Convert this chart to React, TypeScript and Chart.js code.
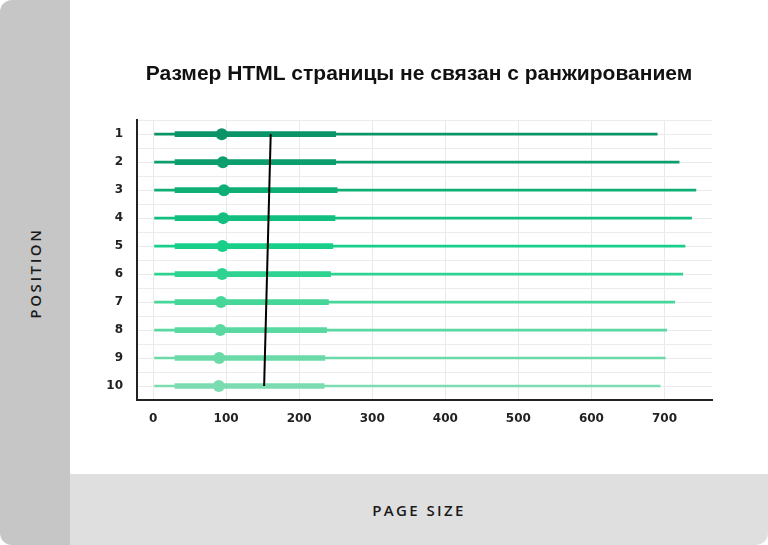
import React, { useEffect, useRef } from "react";
import { Chart, registerables } from "chart.js";

Chart.register(...registerables);

// positions in SERP (y axis)
const positions = [1, 2, 3, 4, 5, 6, 7, 8, 9, 10];
// page size (KB) distribution per position
const whiskerMin = [2, 2, 2, 2, 2, 2, 2, 2, 2, 2];
const q1 = [30, 30, 30, 30, 30, 30, 30, 30, 30, 30];
const medians = [94, 95.5, 97, 96, 95, 94.5, 93, 92, 90.5, 90];
const q3 = [250, 250, 252, 249, 246, 243, 240, 237.5, 235, 234];
const whiskerMax = [690, 720, 743, 737, 728, 725, 714, 703, 701, 694];
// trend line (top → bottom position)
const trendX = [161, 152];
const trendY = [1, 10];
const xTicks = [0, 100, 200, 300, 400, 500, 600, 700];

const rowColors = [
  "#0a9467",
  "#0c9e6c",
  "#0fae75",
  "#12bf7e",
  "#18cf8a",
  "#2ed391",
  "#45d698",
  "#5ad8a1",
  "#6bdaa8",
  "#7bdcb1",
];

const tickFont = { family: "'DejaVu Sans', sans-serif", size: 12, weight: "bold" as const };

const RangeChart = () => {
  const ref = useRef<HTMLCanvasElement | null>(null);

  useEffect(() => {
    if (!ref.current) return;
    const chart = new Chart(ref.current, {
      type: "bar",
      data: {
        datasets: [
          {
            type: "line",
            data: trendX.map((x, i) => ({ x, y: trendY[i] })),
            borderColor: "#000",
            borderWidth: 2,
            pointRadius: 0,
            order: 0,
          } as any,
          {
            type: "scatter",
            data: positions.map((p, i) => ({ x: medians[i], y: p })),
            pointRadius: 6,
            pointHoverRadius: 6,
            pointBackgroundColor: rowColors,
            pointBorderWidth: 0,
            order: 1,
          } as any,
          {
            type: "bar",
            indexAxis: "y",
            data: positions.map((p, i) => ({ y: p, x: [q1[i], q3[i]] })),
            backgroundColor: rowColors,
            barThickness: 5,
            grouped: false,
            order: 2,
          } as any,
          {
            type: "bar",
            indexAxis: "y",
            data: positions.map((p, i) => ({ y: p, x: [whiskerMin[i], whiskerMax[i]] })),
            backgroundColor: rowColors,
            barThickness: 2,
            grouped: false,
            order: 3,
          } as any,
        ],
      },
      options: {
        animation: false,
        responsive: true,
        maintainAspectRatio: false,
        layout: { padding: 0 },
        plugins: {
          legend: { display: false },
          tooltip: { enabled: false },
          title: {
            display: true,
            text: "Размер HTML страницы не связан с ранжированием",
            color: "#111",
            font: { family: "'Liberation Sans', Arial, sans-serif", size: 21, weight: "bold" },
            padding: { top: 62, bottom: 33 },
          },
        },
        scales: {
          x: {
            type: "linear",
            offset: false,
            min: -22,
            max: 765,
            afterBuildTicks: (scale: any) => {
              scale.ticks = xTicks.map((v) => ({ value: v }));
            },
            afterFit: (scale: any) => {
              scale.height = 75;
            },
            grid: { color: "#e9e9e9", drawTicks: false, offset: false },
            border: { display: true, color: "#222", width: 2 },
            ticks: { color: "#222", font: tickFont, padding: 12 },
          },
          y: {
            type: "linear",
            offset: false,
            reverse: true,
            min: 0.5,
            max: 10.5,
            afterBuildTicks: (scale: any) => {
              const t = [];
              for (let v = 0.5; v <= 10.5; v += 0.5) t.push({ value: v });
              scale.ticks = t;
            },
            afterFit: (scale: any) => {
              scale.width = 67;
            },
            grid: { color: "#ebebeb", drawTicks: false, offset: false },
            border: { display: true, color: "#222", width: 2 },
            ticks: {
              color: "#222",
              font: tickFont,
              padding: 14,
              autoSkip: false,
              callback: (v: any) => (Number.isInteger(v) ? String(v) : ""),
            },
          },
          // empty right-hand axis, only reserves space so the title stays centred on the canvas
          yRight: {
            type: "linear",
            position: "right",
            display: true,
            min: 0,
            max: 1,
            grid: { display: false, drawTicks: false },
            border: { display: false },
            ticks: { display: false },
            afterFit: (scale: any) => {
              scale.width = 56;
            },
          },
        },
      } as any,
    });
    return () => chart.destroy();
  }, []);

  return <canvas ref={ref} />;
};

export default function App() {
  return (
    <div
      style={{
        position: "absolute",
        left: 0,
        top: 0,
        width: 768,
        height: 545,
        background: "#fff",
        borderRadius: 12,
        overflow: "hidden",
      }}
    >
      <div
        style={{
          position: "absolute",
          left: 0,
          top: 0,
          width: 70,
          height: 545,
          background: "#c6c6c6",
        }}
      />
      <div
        style={{
          position: "absolute",
          left: 70,
          top: 474,
          width: 698,
          height: 71,
          background: "#dfdfdf",
        }}
      />
      <div
        style={{
          position: "absolute",
          left: 35,
          top: 273,
          transform: "translate(-50%, -50%) rotate(-90deg)",
          fontFamily: "'Open Sans', sans-serif",
          fontWeight: 600,
          fontSize: 15,
          letterSpacing: 2.6,
          color: "#1a1a1a",
          whiteSpace: "nowrap",
        }}
      >
        POSITION
      </div>
      <div
        style={{
          position: "absolute",
          left: 419,
          top: 510,
          transform: "translate(-50%, -50%)",
          fontFamily: "'Open Sans', sans-serif",
          fontWeight: 600,
          fontSize: 15,
          letterSpacing: 2.4,
          color: "#1a1a1a",
          whiteSpace: "nowrap",
        }}
      >
        PAGE SIZE
      </div>
      <div style={{ position: "absolute", left: 70, top: 0, width: 698, height: 475 }}>
        <RangeChart />
      </div>
    </div>
  );
}
